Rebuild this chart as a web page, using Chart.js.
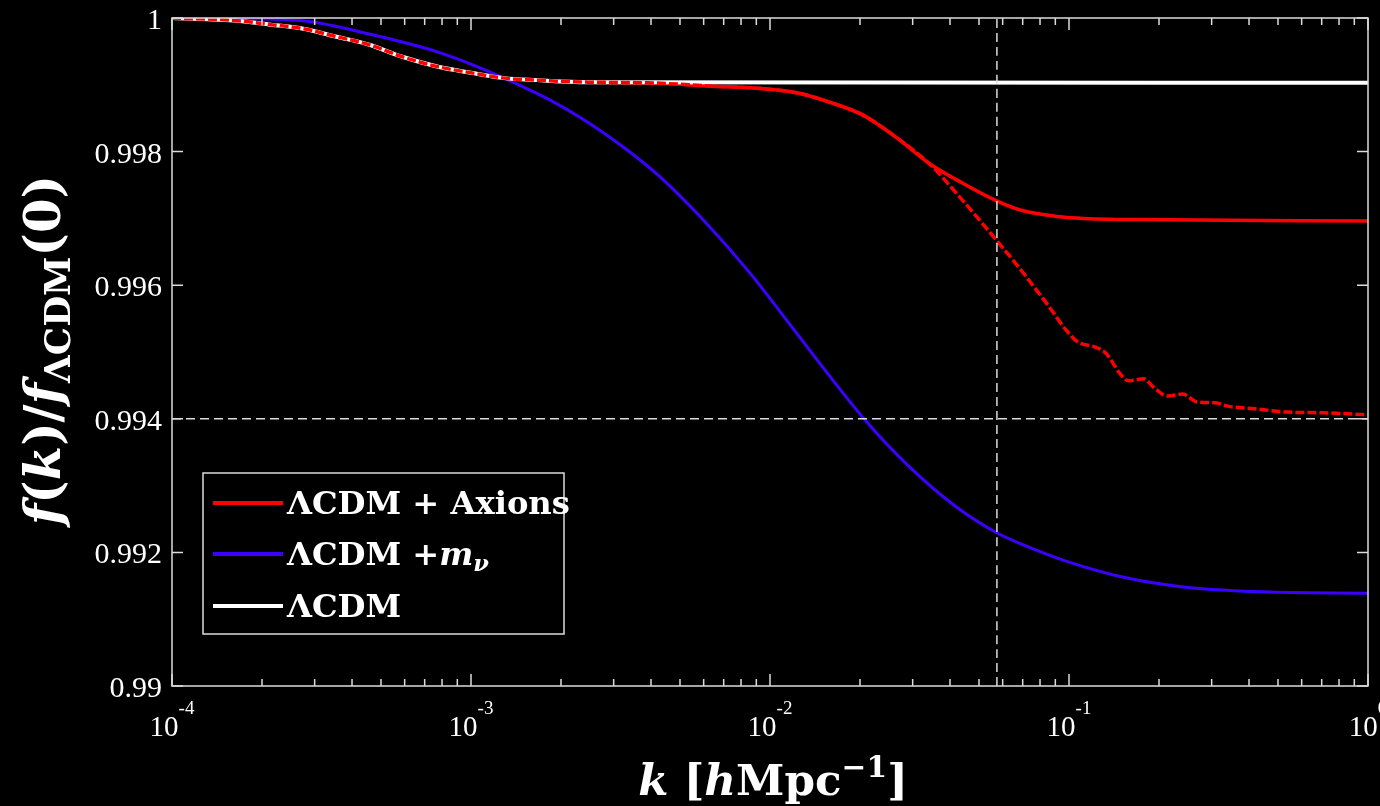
<!DOCTYPE html>
<html>
<head>
<meta charset="utf-8">
<title>Growth rate ratio</title>
<script src="https://cdn.jsdelivr.net/npm/chart.js@4.4.1/dist/chart.umd.min.js"></script>
<style>
  html, body { margin: 0; padding: 0; background: #000; }
  #wrap { width: 1380px; height: 806px; }
</style>
</head>
<body>
<div id="wrap"><canvas id="growth" width="1380" height="806"></canvas></div>
<script>
// values, k in h/Mpc

// LCDM + axions (solid)
const axionsK = [1e-4, 1.66e-4, 2.14e-4, 2.75e-4, 3.55e-4, 4.57e-4, 5.89e-4, 7.76e-4, 1.0e-3, 1.29e-3,
  1.66e-3, 2.45e-3, 3.89e-3, 6.46e-3, 9.55e-3, 1.23e-2, 1.58e-2, 2.04e-2, 2.63e-2, 3.39e-2,
  4.4e-2, 5.75e-2, 7.08e-2, 9.12e-2, 0.112, 0.209, 1];
const axionsF = [1.0, 0.99996, 0.99990, 0.99984, 0.99972, 0.99960, 0.99942, 0.99927, 0.99918, 0.99910,
  0.99907, 0.99904, 0.99903, 0.99898, 0.99894, 0.99888, 0.99874, 0.99855, 0.99822, 0.99783,
  0.99753, 0.99726, 0.99711, 0.99703, 0.99700, 0.99698, 0.99696];

// LCDM + axions, second case (dashed)
const axions2K = [1e-4, 1.66e-4, 2.14e-4, 2.75e-4, 3.55e-4, 4.57e-4, 5.89e-4, 7.76e-4, 1.0e-3, 1.29e-3,
  1.66e-3, 2.45e-3, 3.89e-3, 6.46e-3, 9.55e-3, 1.23e-2, 1.58e-2, 2.04e-2, 2.63e-2, 3.39e-2,
  4.37e-2, 5.75e-2, 6.46e-2, 7.24e-2, 8.51e-2, 9.77e-2, 0.107, 0.123, 0.133,
  0.148, 0.158, 0.178, 0.191, 0.214, 0.240, 0.269, 0.309, 0.339, 0.417,
  0.537, 0.708, 1];
const axions2F = [1.0, 0.99996, 0.99990, 0.99984, 0.99972, 0.99960, 0.99942, 0.99927, 0.99918, 0.99910,
  0.99907, 0.99904, 0.99903, 0.99898, 0.99894, 0.99888, 0.99874, 0.99855, 0.99822, 0.99783,
  0.99729, 0.99666, 0.99639, 0.99611, 0.99570, 0.99533, 0.99515, 0.99507, 0.99498,
  0.99468, 0.99457, 0.99460, 0.99448, 0.99434, 0.99437, 0.99425, 0.99424, 0.99419, 0.99415,
  0.99410, 0.99409, 0.99406];

// LCDM + massive neutrinos
const nuK = [1e-4, 1.86e-4, 2.95e-4, 4.57e-4, 5.89e-4, 7.76e-4, 1.0e-3, 1.29e-3, 1.86e-3, 2.34e-3,
  3.14e-3, 4.27e-3, 5.89e-3, 8.51e-3, 1.10e-2, 1.45e-2, 2.09e-2, 2.88e-2, 4.17e-2, 5.75e-2,
  7.24e-2, 9.77e-2, 0.155, 0.245, 0.447, 1];
const nuF = [1.0, 0.99999, 0.99994, 0.99976, 0.99964, 0.99949, 0.99931, 0.99910, 0.99876, 0.99850,
  0.99811, 0.99763, 0.99701, 0.99620, 0.99556, 0.99486, 0.99397, 0.99331, 0.99269, 0.99229,
  0.99209, 0.99187, 0.99162, 0.99148, 0.99141, 0.99139];

// LCDM
const lcdmK = [1e-4, 1.66e-4, 2.14e-4, 2.75e-4, 3.55e-4, 4.57e-4, 5.89e-4, 7.76e-4, 1.0e-3, 1.29e-3,
  1.66e-3, 2.45e-3, 1];
const lcdmF = [1.0, 0.99996, 0.99990, 0.99984, 0.99972, 0.99960, 0.99942, 0.99927, 0.99918, 0.99910,
  0.99907, 0.99904, 0.99903];

// dashed guide lines
const guideK = 0.0574;
const guideF = 0.994;

// axes
const xRange = [1e-4, 1];
const yRange = [0.99, 1];
const xDecades = [1e-4, 1e-3, 1e-2, 1e-1, 1];
const xDecadeExp = ['-4', '-3', '-2', '-1', '0'];
const xMinorMult = [2, 3, 4, 5, 6, 7, 8, 9];
const yTicks = [0.99, 0.992, 0.994, 0.996, 0.998, 1];
const yTickLabels = ['0.99', '0.992', '0.994', '0.996', '0.998', '1'];

const RED = '#ff0000';
const BLUE = '#3c00ff';
const WHITE = '#ffffff';
const AXIS = '#dcdcdc';

const toPoints = (ks, fs) => ks.map((k, i) => ({ x: k, y: fs[i] }));

function drawRich(ctx, parts, x, y, align) {
  let w = 0;
  parts.forEach(p => { ctx.font = p.font; p.w = ctx.measureText(p.text).width; w += p.w; });
  let cx = align === 'center' ? x - w / 2 : x;
  parts.forEach(p => {
    ctx.font = p.font;
    ctx.fillText(p.text, cx, y + (p.dy || 0));
    cx += p.w;
  });
  return w;
}

// scale a set of text parts so that it spans a given width
function fitParts(ctx, spec, family, targetW) {
  const build = size => spec.map(s => ({
    text: s.text,
    font: `${s.style} ${(size * (s.rel || 1)).toFixed(1)}px ${family}`,
    dy: (s.dy || 0) * size
  }));
  let w = 0;
  build(100).forEach(p => { ctx.font = p.font; w += ctx.measureText(p.text).width; });
  return build(100 * targetW / w);
}

const growthFrame = {
  id: 'growthFrame',
  afterDatasetsDraw(chart) {
    const { ctx, chartArea: a, scales: { x, y } } = chart;
    ctx.save();

    // box
    ctx.strokeStyle = AXIS;
    ctx.lineWidth = 1.5;
    ctx.strokeRect(a.left, a.top, a.right - a.left, a.bottom - a.top);

    // ticks, pointing inwards on all four sides
    ctx.beginPath();
    xDecades.forEach(v => {
      const px = x.getPixelForValue(v);
      ctx.moveTo(px, a.bottom); ctx.lineTo(px, a.bottom - 12);
      ctx.moveTo(px, a.top); ctx.lineTo(px, a.top + 12);
    });
    xDecades.slice(0, -1).forEach(d => {
      xMinorMult.forEach(m => {
        const px = x.getPixelForValue(m * d);
        ctx.moveTo(px, a.bottom); ctx.lineTo(px, a.bottom - 7);
        ctx.moveTo(px, a.top); ctx.lineTo(px, a.top + 7);
      });
    });
    yTicks.forEach(v => {
      const py = y.getPixelForValue(v);
      ctx.moveTo(a.left, py); ctx.lineTo(a.left + 11, py);
      ctx.moveTo(a.right, py); ctx.lineTo(a.right - 11, py);
    });
    ctx.stroke();

    // tick labels
    ctx.fillStyle = WHITE;
    ctx.textBaseline = 'alphabetic';
    ctx.textAlign = 'right';
    ctx.font = '30px "Liberation Serif"';
    yTicks.forEach((v, i) => {
      ctx.fillText(yTickLabels[i], a.left - 10, y.getPixelForValue(v) + 11);
    });
    ctx.textAlign = 'left';
    xDecades.forEach((v, i) => {
      drawRich(ctx, [
        { text: '10', font: '29px "Liberation Serif"' },
        { text: xDecadeExp[i], font: '19px "Liberation Serif"', dy: -22 }
      ], x.getPixelForValue(v), a.bottom + 50, 'center');
    });

    // x title
    const xt = fitParts(ctx, [
      { text: 'k', style: 'italic bold' },
      { text: ' [', style: 'bold' },
      { text: 'h', style: 'italic bold' },
      { text: 'Mpc', style: 'bold' },
      { text: '\u22121', style: 'bold', rel: 0.68, dy: -0.42 },
      { text: ']', style: 'bold' }
    ], '"DejaVu Serif"', 270);
    drawRich(ctx, xt, 773, 795, 'center');

    // y title
    const yt = fitParts(ctx, [
      { text: 'f', style: 'italic bold' },
      { text: '(', style: 'bold' },
      { text: 'k', style: 'italic bold' },
      { text: ')/', style: 'bold' },
      { text: 'f', style: 'italic bold' },
      { text: '\u039BCDM', style: 'bold', rel: 0.72, dy: 0.2 },
      { text: '(0)', style: 'bold' }
    ], '"DejaVu Serif"', 350);
    ctx.save();
    ctx.translate(46, 350);
    ctx.rotate(-Math.PI / 2);
    drawRich(ctx, yt, 0, 14, 'center');
    ctx.restore();

    // legend
    const box = { l: 203, t: 473, r: 564, b: 634 };
    ctx.fillStyle = '#000';
    ctx.fillRect(box.l, box.t, box.r - box.l, box.b - box.t);
    ctx.strokeStyle = AXIS;
    ctx.lineWidth = 1.5;
    ctx.strokeRect(box.l, box.t, box.r - box.l, box.b - box.t);

    const row1 = fitParts(ctx, [{ text: '\u039BCDM + Axions', style: 'bold' }], '"DejaVu Serif"', 283);
    const size = parseFloat(row1[0].font.split(' ')[1]);
    const fam = '"DejaVu Serif"';
    const rows = [
      { color: RED, y: 503, parts: row1 },
      { color: BLUE, y: 554, parts: [
        { text: '\u039BCDM +', font: `bold ${size}px ${fam}` },
        { text: 'm', font: `italic bold ${size}px ${fam}` },
        { text: '\u03BD', font: `italic bold ${size * 0.7}px ${fam}`, dy: 6 }
      ] },
      { color: WHITE, y: 606, parts: [{ text: '\u039BCDM', font: `bold ${size}px ${fam}` }] }
    ];
    rows.forEach(r => {
      ctx.strokeStyle = r.color;
      ctx.lineWidth = 4;
      ctx.beginPath();
      ctx.moveTo(213, r.y); ctx.lineTo(283, r.y);
      ctx.stroke();
      ctx.fillStyle = WHITE;
      drawRich(ctx, r.parts, 287, r.y + 11, 'left');
    });

    ctx.restore();
  }
};

const datasets = [
  { label: 'guide k', data: [{ x: guideK, y: yRange[0] }, { x: guideK, y: yRange[1] }],
    borderColor: AXIS, borderWidth: 1.5, borderDash: [9, 5] },
  { label: 'guide f', data: [{ x: xRange[0], y: guideF }, { x: xRange[1], y: guideF }],
    borderColor: AXIS, borderWidth: 1.5, borderDash: [9, 5] },
  { label: '\u039BCDM + Axions (2)', data: toPoints(axions2K, axions2F),
    borderColor: RED, borderWidth: 3.5, borderDash: [9, 3] },
  { label: '\u039BCDM', data: toPoints(lcdmK, lcdmF), borderColor: WHITE, borderWidth: 4 },
  { label: '\u039BCDM + Axions', data: toPoints(axionsK, axionsF), borderColor: RED, borderWidth: 3.5 },
  { label: '\u039BCDM + m\u03BD', data: toPoints(nuK, nuF), borderColor: BLUE, borderWidth: 3 }
];

new Chart(document.getElementById('growth'), {
  type: 'scatter',
  data: { datasets: datasets.map(d => ({ ...d, showLine: true, pointRadius: 0, fill: false,
    cubicInterpolationMode: 'monotone' })) },
  options: {
    responsive: false,
    animation: false,
    devicePixelRatio: 1,
    layout: { padding: { left: 172, right: 12, top: 18, bottom: 120 } },
    scales: {
      x: { type: 'logarithmic', min: xRange[0], max: xRange[1], display: false },
      y: { type: 'linear', min: yRange[0], max: yRange[1], display: false }
    },
    plugins: { legend: { display: false }, tooltip: { enabled: false } }
  },
  plugins: [growthFrame]
});
</script>
</body>
</html>
